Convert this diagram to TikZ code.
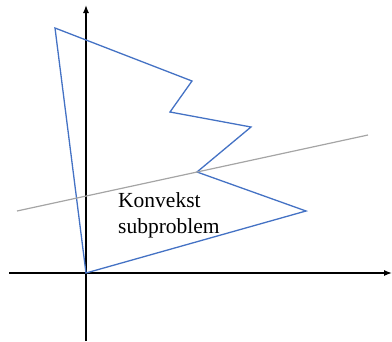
\documentclass[tikz,border=0pt]{standalone}
\usepackage{fontspec}
\setmainfont{Liberation Serif}
\usetikzlibrary{arrows.meta,positioning}
\definecolor{polyblue}{RGB}{68,114,196}
\definecolor{cutgray}{RGB}{165,165,165}

\begin{document}
\begin{tikzpicture}[x=1pt,y=-1pt,>={Latex[length=8pt,width=6pt]},
  axis/.style={draw=black,line width=1.3pt},
  region/.style={draw=polyblue,line width=1.3pt,line join=miter},
  cut/.style={draw=cutgray,line width=1.2pt}]
\useasboundingbox (0,0) rectangle (392,341);
% axes
\coordinate (o) at (86,273);
\coordinate (xl) at (9,273);
\coordinate (xr) at (392,273);
\coordinate (yb) at (86,341);
\coordinate (yt) at (86,5);
\draw[axis,->] (xl) -- (xr);
\draw[axis,->] (yb) -- (yt);
% non-convex region
\coordinate (p1) at (55,28);
\coordinate (p2) at (192,81);
\coordinate (p3) at (170,112);
\coordinate (p4) at (251,127);
\coordinate (p5) at (197,172);
\coordinate (p6) at (306,211);
\draw[region] (o) -- (p1) -- (p2) -- (p3) -- (p4) -- (p5) -- (p6) -- cycle;
% cutting line
\coordinate (c1) at (17,211);
\coordinate (c2) at (368,135);
\draw[cut] (c1) -- (c2);
\node[anchor=north west,align=left,inner sep=0pt,
  font=\fontsize{21.5}{26}\selectfont] (sub) at (118,192.5) {Konvekst\\subproblem};
\end{tikzpicture}
\end{document}
